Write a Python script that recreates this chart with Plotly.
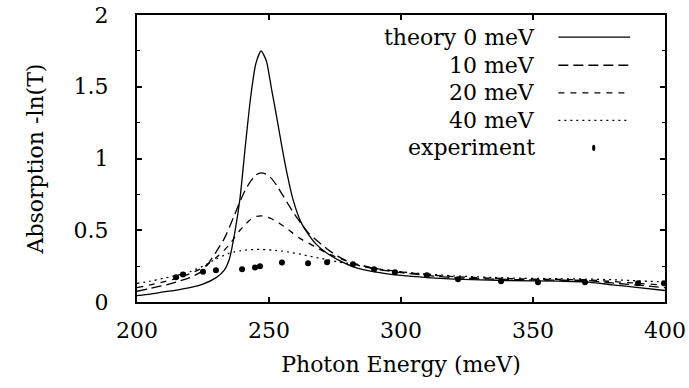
import plotly.graph_objects as go

# Theory curves (photon energy in meV, absorption -ln(T))
energy = [200, 205, 210, 215, 220, 225, 230, 233, 235, 237, 239, 241, 243, 245,
          247, 249, 251, 253, 255, 257, 259, 262, 265, 268, 272, 276, 282, 290,
          300, 310, 320, 340, 360, 370, 380, 390, 400]

theory_0 = [0.045, 0.055, 0.07, 0.083, 0.10, 0.125, 0.17, 0.22, 0.30, 0.48, 0.72,
            1.08, 1.42, 1.66, 1.75, 1.68, 1.48, 1.28, 1.07, 0.88, 0.72, 0.56, 0.47,
            0.40, 0.34, 0.295, 0.245, 0.21, 0.185, 0.17, 0.16, 0.15, 0.145, 0.14,
            0.12, 0.10, 0.08]

theory_10 = [0.075, 0.095, 0.115, 0.14, 0.17, 0.22, 0.35, 0.44, 0.52, 0.61, 0.70,
             0.78, 0.84, 0.885, 0.90, 0.89, 0.86, 0.81, 0.75, 0.69, 0.63, 0.55, 0.48,
             0.43, 0.37, 0.32, 0.265, 0.23, 0.205, 0.185, 0.17, 0.157, 0.152, 0.15,
             0.133, 0.117, 0.10]

theory_20 = [0.10, 0.12, 0.14, 0.165, 0.197, 0.24, 0.31, 0.36, 0.40, 0.45, 0.50,
             0.54, 0.575, 0.595, 0.60, 0.595, 0.58, 0.56, 0.535, 0.51, 0.48, 0.44,
             0.41, 0.38, 0.34, 0.31, 0.27, 0.235, 0.21, 0.19, 0.177, 0.163, 0.157,
             0.155, 0.143, 0.13, 0.117]

theory_40 = [0.13, 0.145, 0.165, 0.185, 0.21, 0.25, 0.30, 0.325, 0.34, 0.35, 0.357,
             0.362, 0.365, 0.366, 0.366, 0.365, 0.362, 0.358, 0.354, 0.349, 0.343,
             0.333, 0.32, 0.31, 0.295, 0.28, 0.262, 0.235, 0.21, 0.195, 0.182, 0.168,
             0.162, 0.16, 0.155, 0.147, 0.14]

# Experimental points
exp_energy = [214.8, 217.4, 225.0, 229.9, 239.8, 244.7, 246.6, 254.9, 264.8, 272.0,
              281.8, 289.8, 297.7, 309.8, 321.6, 337.9, 351.9, 369.7, 389.8, 399.6]
exp_absorption = [0.172, 0.192, 0.211, 0.221, 0.229, 0.241, 0.249, 0.275, 0.270, 0.277,
                  0.263, 0.228, 0.207, 0.186, 0.158, 0.144, 0.137, 0.137, 0.130, 0.130]

legend_labels = ["theory 0 meV", "10 meV", "20 meV", "40 meV", "experiment"]
dash_styles = ["solid", "10px,5px", "6px,6px", "2px,4px"]

FONT = "DejaVu Serif"
FS = 22

fig = go.Figure()
for ys, dash, name in zip([theory_0, theory_10, theory_20, theory_40], dash_styles, legend_labels[:4]):
    fig.add_trace(go.Scatter(x=energy, y=ys, mode="lines", name=name,
                             line=dict(color="black", width=1.3, dash=dash, shape="spline", smoothing=0.6),
                             showlegend=False))
fig.add_trace(go.Scatter(x=exp_energy, y=exp_absorption, mode="markers", name=legend_labels[4],
                         marker=dict(color="black", size=6), showlegend=False))

# Legend (text right-aligned, sample to the right, as in gnuplot)
rows_y = [0.923, 0.825, 0.729, 0.633, 0.537]
for i, (lab, yy) in enumerate(zip(legend_labels, rows_y)):
    fig.add_annotation(x=0.758, y=yy, xref="paper", yref="paper", text=lab, showarrow=False,
                       xanchor="right", yanchor="middle", font=dict(family=FONT, size=FS, color="black"))
    if i < 4:
        fig.add_shape(type="line", xref="paper", yref="paper", x0=0.798, x1=0.934, y0=yy, y1=yy,
                      line=dict(color="black", width=1.3, dash=dash_styles[i]))
    else:
        fig.add_shape(type="circle", xref="paper", yref="paper", x0=0.862, x1=0.868,
                      y0=yy - 0.0105, y1=yy + 0.0105, fillcolor="black", line=dict(color="black", width=0))

axis_common = dict(showline=True, linecolor="black", linewidth=2, mirror="ticks",
                   ticks="inside", tickcolor="black", tickwidth=1.5, ticklen=5,
                   showgrid=False, zeroline=False, automargin=False,
                   tickfont=dict(family=FONT, size=FS, color="black"))

fig.update_xaxes(range=[200, 400], tickvals=[200, 250, 300, 350, 400],
                 ticklabelstandoff=8,
                 title=dict(text="Photon Energy (meV)", font=dict(family=FONT, size=FS, color="black"), standoff=14),
                 **axis_common)
fig.update_yaxes(range=[0, 2], tickvals=[0, 0.5, 1, 1.5, 2], ticktext=["0", "0.5", "1", "1.5", "2"],
                 ticklabelstandoff=22,
                 minor=dict(tickvals=[0.25, 0.75, 1.25, 1.75], ticks="inside", ticklen=3, tickcolor="black", tickwidth=1.2),
                 title=dict(text="Absorption -ln(T)", font=dict(family=FONT, size=FS, color="black"), standoff=24),
                 **axis_common)

fig.update_layout(width=689, height=388, margin=dict(l=137, r=24, t=15, b=86),
                  font=dict(family=FONT),
                  paper_bgcolor="white", plot_bgcolor="white", showlegend=False)

fig.write_html("out.html")
